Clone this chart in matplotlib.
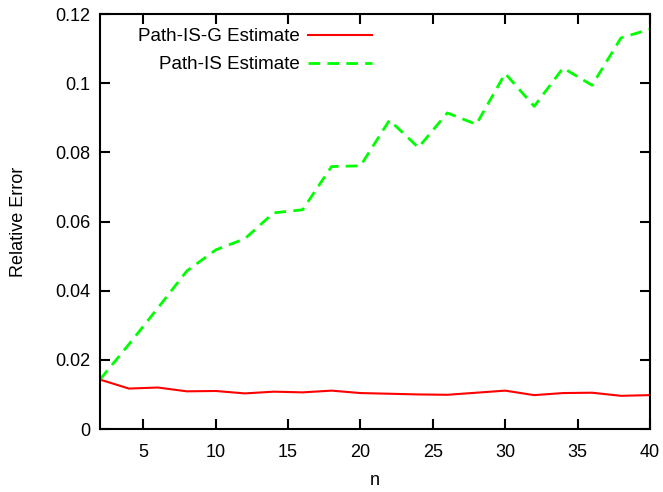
import matplotlib
matplotlib.use("Agg")
import matplotlib.pyplot as plt

n = [2, 4, 6, 8, 10, 12, 14, 16, 18, 20, 22, 24, 26, 28, 30, 32, 34, 36, 38, 40]
path_is_g = [0.0143, 0.0117, 0.0120, 0.0109, 0.0110, 0.0103, 0.0108, 0.0106, 0.0111, 0.0104,
             0.0102, 0.0100, 0.0099, 0.0105, 0.0111, 0.0098, 0.0104, 0.0105, 0.0096, 0.0098]
path_is = [0.0143, 0.0245, 0.0350, 0.0457, 0.0518, 0.0550, 0.0625, 0.0634, 0.0759, 0.0761,
           0.0893, 0.0814, 0.0914, 0.0881, 0.1028, 0.0933, 0.1044, 0.0994, 0.1131, 0.1156]

plt.rcParams['font.family'] = ['Liberation Sans', 'DejaVu Sans']
plt.rcParams['font.size'] = 13

fig = plt.figure(figsize=(6.63, 4.92), dpi=100)
ax = fig.add_axes([0.1508, 0.128, 0.8295, 0.8435])

ax.plot(n, path_is_g, color='#ff0000', lw=1.5, label='Path-IS-G Estimate')
ax.plot(n, path_is, color='#00ff00', lw=2.0, dashes=(4.2, 2.6), label='Path-IS Estimate')

ax.set_xlim(2, 40)
ax.set_ylim(0, 0.12)
ax.set_xticks([5, 10, 15, 20, 25, 30, 35, 40])
ax.set_yticks([0, 0.02, 0.04, 0.06, 0.08, 0.1, 0.12])
ax.set_yticklabels(['0', '0.02', '0.04', '0.06', '0.08', '0.1', '0.12'])
ax.tick_params(direction='in', length=7, width=1.5, top=True, right=True)
ax.tick_params(axis='x', pad=11)
ax.tick_params(axis='y', pad=7)
for s in ax.spines.values():
    s.set_linewidth(1.5)

ax.set_xlabel('n', labelpad=8)
ax.set_ylabel('Relative Error', labelpad=20)

ax.legend(loc='upper right', bbox_to_anchor=(0.4945, 0.966), markerfirst=False, frameon=False,
          handlelength=3.4, handletextpad=0.45, labelspacing=0.57, borderaxespad=0,
          borderpad=0, fontsize=13.5)

fig.savefig('out.png', dpi=100)
